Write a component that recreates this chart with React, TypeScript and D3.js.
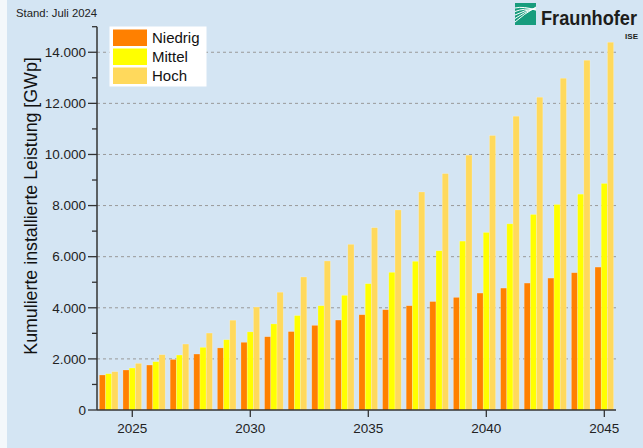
import * as d3 from 'd3';

const W = 643;
const H = 448;
const MARGIN = { top: 26.7, right: 27, bottom: 38, left: 97 };

const years = d3.range(2024, 2046);
const series = ['Niedrig', 'Mittel', 'Hoch'];
const colors = ['#ff8000', '#ffff00', '#ffd95c'];

const niedrig = [1370, 1565, 1760, 1980, 2190, 2430, 2650, 2868, 3070, 3312, 3520, 3728, 3925, 4080, 4245, 4407, 4576, 4771, 4967, 5162, 5372, 5593];
const mittel = [1420, 1643, 1890, 2151, 2452, 2750, 3058, 3370, 3697, 4080, 4489, 4943, 5389, 5820, 6232, 6609, 6949, 7286, 7652, 8043, 8447, 8866];
const hoch = [1500, 1826, 2163, 2581, 3011, 3515, 4030, 4610, 5205, 5832, 6485, 7135, 7828, 8532, 9252, 9973, 10743, 11498, 12241, 12984, 13688, 14392];

const values = [niedrig, mittel, hoch];
const yMajor = [0, 2000, 4000, 6000, 8000, 10000, 12000, 14000];
const xTicks = [2025, 2030, 2035, 2040, 2045];

const fmt = (v: number) => d3.format(',')(v).replace(/,/g, '.');

export default function App() {
  const x0 = MARGIN.left;
  const x1 = W - MARGIN.right;
  const yBase = H - MARGIN.bottom;

  const xScale = d3
    .scaleBand<number>()
    .domain(years)
    .range([x0, x1])
    .paddingInner(0.21)
    .paddingOuter(0.1);
  const sub = d3
    .scaleBand<number>()
    .domain([0, 1, 2])
    .range([0, xScale.bandwidth()]);
  const yScale = d3.scaleLinear().domain([0, 15000]).range([yBase, MARGIN.top]);
  const minor = d3.range(1000, 15001, 2000);

  const font = '"Liberation Sans", Arial, sans-serif';

  return (
    <svg
      width={W}
      height={H}
      style={{ position: 'fixed', left: 0, top: 0, display: 'block' }}
      fontFamily={font}
    >
      <rect width={W} height={H} fill="#d4e5f3" />
      <rect width={7} height={H} fill="#f4f8fb" />

      <text x={16} y={17} fontSize={11.3} fill="#222">
        Stand: Juli 2024
      </text>

      {/* logo */}
      <g>
        <rect x={515} y={3} width={21} height={22} fill="#179c7d" />
        {[0, 1, 2, 3, 4].map((i) => (
          <path
            key={i}
            d={`M515,${22 - i * 3.5} Q524,${14 - i * 2} 536,${7 + i * 0.8}`}
            stroke="#fff"
            strokeWidth={1}
            fill="none"
          />
        ))}
        <text x={541} y={25} fontSize={19.5} fontWeight={700} fill="#1d1d1b" textLength={96} lengthAdjust="spacingAndGlyphs">
          Fraunhofer
        </text>
        <text x={638} y={39} fontSize={8} fontWeight={700} fill="#1d1d1b" textAnchor="end">
          ISE
        </text>
      </g>

      {/* grid */}
      {yMajor.slice(1).map((v) => (
        <line
          key={v}
          x1={x0}
          x2={x1}
          y1={yScale(v)}
          y2={yScale(v)}
          stroke="#999"
          strokeWidth={1}
          strokeDasharray="3,3"
        />
      ))}

      {/* bars */}
      {years.map((yr, i) => (
        <g key={yr} transform={`translate(${xScale(yr)},0)`}>
          {values.map((s, j) => (
            <rect
              key={j}
              x={sub(j)}
              y={yScale(s[i])}
              width={sub.bandwidth()}
              height={yBase - yScale(s[i])}
              fill={colors[j]}
              stroke="rgba(255,255,255,0.35)"
              strokeWidth={0.6}
            />
          ))}
        </g>
      ))}

      {/* y axis */}
      <line x1={x0} x2={x0} y1={MARGIN.top} y2={yBase} stroke="#333" strokeWidth={1.5} />
      {yMajor.map((v) => (
        <g key={v}>
          <line x1={x0 - 9} x2={x0} y1={yScale(v)} y2={yScale(v)} stroke="#333" strokeWidth={1.3} />
          <text x={x0 - 11} y={yScale(v)} dy="0.35em" textAnchor="end" fontSize={13.5} fill="#222">
            {fmt(v)}
          </text>
        </g>
      ))}
      {minor.map((v) => (
        <line key={v} x1={x0 - 5} x2={x0} y1={yScale(v)} y2={yScale(v)} stroke="#333" strokeWidth={1.3} />
      ))}
      <text
        transform={`translate(36.5,206) rotate(-90)`}
        textAnchor="middle"
        fontSize={17.8}
        fill="#111"
      >
        Kumulierte installierte Leistung [GWp]
      </text>

      {/* x axis */}
      <line x1={x0} x2={x1} y1={yBase} y2={yBase} stroke="#333" strokeWidth={1.5} />
      {xTicks.map((t) => {
        const cx = (xScale(t) ?? 0) + xScale.bandwidth() / 2;
        return (
          <g key={t}>
            <line x1={cx} x2={cx} y1={yBase} y2={yBase + 7} stroke="#333" strokeWidth={1.3} />
            <text x={cx} y={yBase + 23} textAnchor="middle" fontSize={13.5} fill="#222">
              {t}
            </text>
          </g>
        );
      })}

      {/* legend */}
      <rect x={109.5} y={26.5} width={97} height={60} fill="#fff" />
      {series.map((name, i) => (
        <g key={name} transform={`translate(113,${29.5 + i * 19})`}>
          <rect width={34} height={16.5} fill={colors[i]} />
          <text x={39} y={13.5} fontSize={15} fill="#111">
            {name}
          </text>
        </g>
      ))}
    </svg>
  );
}
